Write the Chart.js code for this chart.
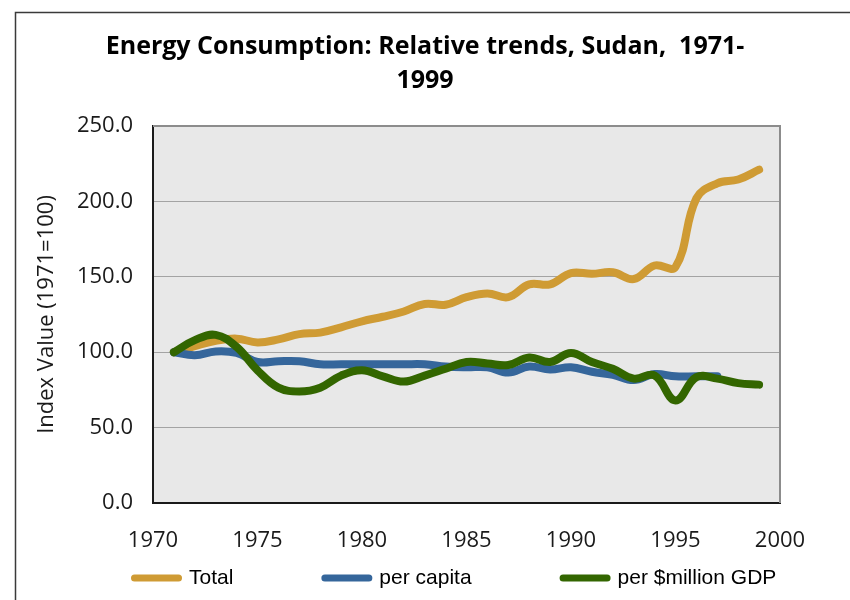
<!DOCTYPE html>
<html>
<head>
<meta charset="utf-8">
<script src="https://cdn.jsdelivr.net/npm/chart.js@4.4.1/dist/chart.umd.min.js"></script>
<style>
  html, body { margin: 0; padding: 0; background: #ffffff; }
  #wrap { width: 850px; height: 600px; }
</style>
</head>
<body>
<div id="wrap"><canvas id="c" width="850" height="600"></canvas></div>
<script>
// ---- data ----
const years = [1971, 1972, 1973, 1974, 1975, 1976, 1977, 1978, 1979, 1980,
               1981, 1982, 1983, 1984, 1985, 1986, 1987, 1988, 1989, 1990,
               1991, 1992, 1993, 1994, 1995, 1996, 1997, 1998, 1999];
const totalValues = [100, 104, 107.5, 109, 106.5, 108.5, 112, 113, 116.5, 120.5,
                     123.5, 127, 132, 131.5, 136.5, 139, 136.5, 145, 145, 152.5,
                     152, 153, 148.5, 157.5, 156.5, 202, 212, 214.5, 221];
const perCapitaValues = [100, 98, 100.5, 99.5, 93.5, 94, 94, 92, 92, 92,
                         92, 92, 92, 90.5, 90, 90, 86.5, 90.5, 88.5, 90,
                         87, 85, 81.5, 85.5, 84, 84, 84];
const perGdpValues = [100, 108, 111.5, 103.5, 88, 76.5, 74, 76.5, 84.5, 88,
                      84, 80.5, 84.5, 89, 93.5, 92.5, 91.5, 96.5, 93.5, 99.5,
                      93.5, 89, 82.5, 84.5, 68, 83.5, 82.5, 79.5, 78.5];
const seriesNames = ['Total', 'per capita', 'per $million GDP'];
const xTickLabels = ['1970', '1975', '1980', '1985', '1990', '1995', '2000'];
const yTickLabels = ['0.0', '50.0', '100.0', '150.0', '200.0', '250.0'];
const titleLines = ['Energy Consumption: Relative trends, Sudan,  1971-', '1999'];
const yTitle = 'Index Value (1971=100)';

function toPoints(vals) {
  return vals.map((v, i) => ({ x: years[i], y: v }));
}

Chart.defaults.font.family = "'Open Sans', sans-serif";

const decor = {
  id: 'decor',
  beforeDraw(chart) {
    const { ctx, chartArea: a } = chart;
    ctx.save();
    ctx.fillStyle = '#ffffff';
    ctx.fillRect(0, 0, chart.width, chart.height);
    ctx.strokeStyle = '#3a3a3a';
    ctx.lineWidth = 1.5;
    ctx.strokeRect(15.5, 12.5, 1000, 1000);
    ctx.fillStyle = '#e8e8e8';
    ctx.fillRect(a.left, a.top, a.right - a.left, a.bottom - a.top);
    ctx.restore();

    // place legend like the reference (wide item spacing, close to bottom)
    const lg = chart.legend;
    if (lg && !lg._placed) {
      const P = lg.options.labels.padding;
      const fs = lg.options.labels.font.size;
      const x0 = (lg.left + P + lg.right - lg.lineWidths[0]) / 2;
      const dx = 134.5 - x0;
      lg.left += dx; lg.right += dx;
      lg.top = 578 - fs / 2 - P;
      lg.bottom = chart.height;
      lg.height = lg.bottom - lg.top;
      lg._placed = true;
    }
  },
  beforeDatasetsDraw(chart) {
    const { ctx, chartArea: a } = chart;
    ctx.save();
    ctx.strokeStyle = '#8c8c8c';
    ctx.lineWidth = 2;
    ctx.beginPath();
    ctx.moveTo(a.left, a.top);
    ctx.lineTo(a.right, a.top);
    ctx.lineTo(a.right, a.bottom);
    ctx.stroke();
    ctx.restore();
  }
};

new Chart(document.getElementById('c'), {
  type: 'line',
  data: {
    datasets: [
      { label: seriesNames[0], data: toPoints(totalValues), borderColor: '#cf9b34', backgroundColor: '#cf9b34',
        borderWidth: 8, borderCapStyle: 'round', borderJoinStyle: 'round', pointRadius: 0, tension: 0.4, fill: false, order: 2 },
      { label: seriesNames[1], data: toPoints(perCapitaValues), borderColor: '#35669b', backgroundColor: '#35669b',
        borderWidth: 8, borderCapStyle: 'round', borderJoinStyle: 'round', pointRadius: 0, tension: 0.4, fill: false, order: 1 },
      { label: seriesNames[2], data: toPoints(perGdpValues), borderColor: '#336600', backgroundColor: '#336600',
        borderWidth: 8, borderCapStyle: 'round', borderJoinStyle: 'round', pointRadius: 0, tension: 0.4, fill: false, order: 0 }
    ]
  },
  options: {
    responsive: false,
    animation: false,
    layout: { padding: { left: 0, right: 0, top: 0, bottom: 0 } },
    plugins: {
      title: {
        display: true,
        text: titleLines,
        color: '#000000',
        font: { family: "'Open Sans', sans-serif", size: 25, weight: 'bold', lineHeight: 1.36 },
        padding: { top: 30, bottom: 28 }
      },
      legend: {
        display: true,
        position: 'bottom',
        maxHeight: 21,
        labels: {
          sort: (a, b) => a.datasetIndex - b.datasetIndex,
          generateLabels(chart) {
            const items = Chart.defaults.plugins.legend.labels.generateLabels(chart);
            return items.map(it => Object.assign(it, { lineCap: 'round', lineWidth: 7 }));
          },
          usePointStyle: true,
          pointStyle: 'line',
          pointStyleWidth: 44,
          padding: 91.5,
          color: '#000000',
          font: { family: "'Liberation Sans', Arial, sans-serif", size: 21 }
        }
      },
      tooltip: { enabled: false }
    },
    scales: {
      x: {
        type: 'linear',
        min: 1970, max: 2000,
        afterBuildTicks(scale) {
          scale.ticks = xTickLabels.map(t => ({ value: Number(t) }));
        },
        ticks: {
          callback: (v) => xTickLabels[xTickLabels.indexOf(String(v))],
          padding: 24.8,
          color: '#1a1a1a',
          maxRotation: 0,
          font: { size: 22 }
        },
        grid: { display: false, drawTicks: false },
        border: { display: true, color: '#1a1a1a', width: 2 }
      },
      y: {
        type: 'linear',
        min: 0, max: 250,
        afterBuildTicks(scale) {
          scale.ticks = yTickLabels.map(t => ({ value: Number(t) }));
        },
        ticks: {
          callback: (v) => yTickLabels.find(t => Number(t) === v),
          padding: 20,
          color: '#1a1a1a',
          font: { size: 22 }
        },
        grid: { color: '#a3a3a3', lineWidth: 1, drawTicks: false },
        border: { display: true, color: '#1a1a1a', width: 2 },
        title: {
          display: true,
          text: yTitle,
          color: '#1a1a1a',
          font: { size: 22 },
          padding: { top: 34, bottom: 0 }
        },
        afterFit(scale) { scale.width = 153; }
      },
      yRightSpace: {
        type: 'linear',
        position: 'right',
        display: true,
        ticks: { display: false },
        grid: { display: false, drawTicks: false },
        border: { display: false },
        afterFit(scale) { scale.width = 70; }
      }
    }
  },
  plugins: [decor]
});
</script>
</body>
</html>
